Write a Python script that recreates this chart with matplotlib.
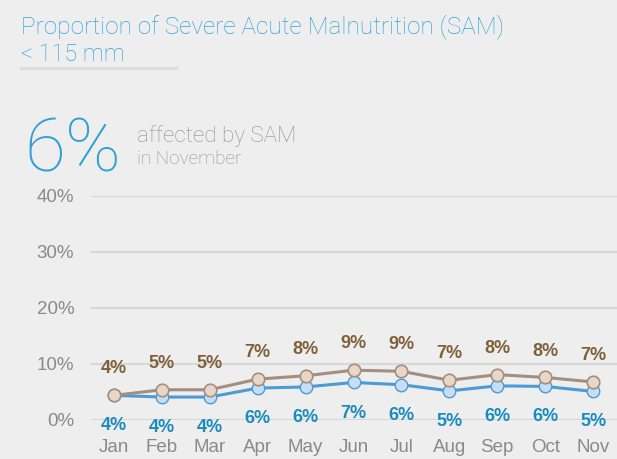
import numpy as np
import matplotlib
matplotlib.use("Agg")
import matplotlib.pyplot as plt

# ── data ─────────────────────────────────────────────────────────────────────
months = ["Jan", "Feb", "Mar", "Apr", "May", "Jun", "Jul", "Aug", "Sep", "Oct", "Nov"]
sam_upper = [4.4, 5.4, 5.4, 7.3, 7.9, 8.9, 8.7, 7.1, 8.1, 7.6, 6.8]   # brown series
sam_lower = [4.4, 4.1, 4.1, 5.7, 5.9, 6.7, 6.3, 5.2, 6.1, 6.0, 5.1]   # blue series
y_ticks = [0, 10, 20, 30, 40]
headline = "6%"

BG = "#eeeeee"
C_TITLE = "#35a3db"
C_GRAY = "#8a8a8a"
C_GRID = "#d8d8d8"
C_BR_LINE, C_BR_FILL, C_BR_TXT = "#a38f80", "#e9d6c6", "#7f6039"
C_BL_LINE, C_BL_FILL, C_BL_TXT = "#4d9bd5", "#c6ddf3", "#1b8bbd"

W, H = 617, 459
fig = plt.figure(figsize=(W / 100, H / 100), dpi=100, facecolor=BG)

# header texts
fig.text(21 / W, 1 - 33 / H, "Proportion of Severe Acute Malnutrition (SAM)",
         fontsize=17.6, color=C_TITLE, family="Roboto", fontweight="light",
         va="baseline")
fig.text(21 / W, 1 - 61 / H, "< 115 mm", fontsize=16.8, color=C_TITLE,
         family="Roboto", fontweight="light", va="baseline")
fig.add_artist(plt.Line2D([21 / W, 176 / W], [1 - 68 / H, 1 - 68 / H],
                          color="#dcdcdc", lw=2.2, transform=fig.transFigure))
fig.text(24 / W, 1 - 172 / H, headline, fontsize=54, color="#2f9fd4",
         family="Roboto", fontweight="light", va="baseline")
fig.text(137 / W, 1 - 142 / H, "affected by SAM", fontsize=16.2, color="#929292",
         family="Roboto", fontweight="light", va="baseline")
fig.text(137 / W, 1 - 164 / H, "in November", fontsize=13.6, color="#929292",
         family="Roboto", fontweight="light", va="baseline")

# chart area: 0 % at y=420 px, 40 % at y=196 px
ax = fig.add_axes([91 / W, (H - 420) / H, 1 - 91 / W, 224 / H])
ax.set_facecolor(BG)
x = np.arange(len(months))
ax.set_xlim(-0.48, 10.5)
ax.set_ylim(0, 40)
ax.set_yticks(y_ticks)
ax.set_yticklabels([f"{v}%" for v in y_ticks])
ax.set_xticks(x)
ax.set_xticklabels(months)
ax.tick_params(length=0, labelsize=13.5, labelcolor=C_GRAY)
ax.tick_params(axis="y", pad=12)
ax.tick_params(axis="x", pad=14)
for lab in ax.get_xticklabels() + ax.get_yticklabels():
    lab.set_family("Liberation Sans")
for s in ax.spines.values():
    s.set_visible(False)
ax.grid(axis="y", color=C_GRID, lw=1.6)
ax.set_axisbelow(True)

ax.plot(x, sam_lower, color=C_BL_LINE, lw=2.2, marker="o", ms=9,
        mfc=C_BL_FILL, mec=C_BL_LINE, mew=1.0, clip_on=False, zorder=3)
ax.plot(x, sam_upper, color=C_BR_LINE, lw=2.2, marker="o", ms=9,
        mfc=C_BR_FILL, mec=C_BR_LINE, mew=1.2, clip_on=False, zorder=4)

for xi, vu, vl in zip(x, sam_upper, sam_lower):
    ax.annotate(f"{round(vu)}%", (xi, vu), textcoords="offset points",
                xytext=(0, 19), ha="center", va="center", fontsize=13,
                fontweight="bold", color=C_BR_TXT, family="Liberation Sans")
    ax.annotate(f"{round(vl)}%", (xi, vl), textcoords="offset points",
                xytext=(0, -22), ha="center", va="center", fontsize=13,
                fontweight="bold", color=C_BL_TXT, family="Liberation Sans")

fig.savefig("out.png", dpi=100, facecolor=BG)
